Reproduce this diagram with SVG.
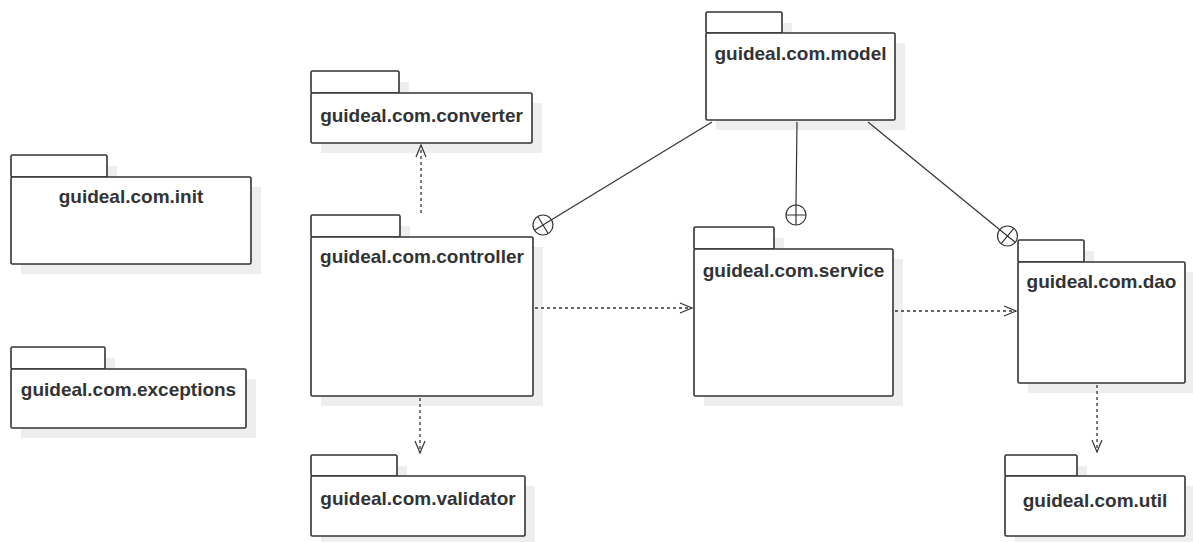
<svg xmlns="http://www.w3.org/2000/svg" width="1193" height="542" viewBox="0 0 1193 542">
<style>
.sh{fill:#eeeeee;stroke:none}
.pk{fill:#ffffff;stroke:#333333;stroke-width:1.6;stroke-linejoin:round}
.t{font-family:"Liberation Sans",Arial,sans-serif;font-size:19px;font-weight:bold;fill:#333333;text-anchor:middle}
.dep{fill:none;stroke:#333333;stroke-width:1.3;stroke-dasharray:3,3}
.sol{fill:none;stroke:#333333;stroke-width:1.2}
.ah{fill:none;stroke:#333333;stroke-width:1.2}
.cir{fill:#ffffff;stroke:#333333;stroke-width:1.2}
</style>
<rect width="1193" height="542" fill="#ffffff"/>

<g id="init">
<rect class="sh" x="21" y="166" width="96" height="22"/>
<rect class="sh" x="21" y="187" width="240" height="87"/>
<rect class="pk" x="11" y="155" width="96" height="22" rx="1.5"/>
<rect class="pk" x="11" y="177" width="240" height="87" rx="1.5"/>
<text class="t" x="131" y="203">guideal.com.init</text>
</g>

<g id="exceptions">
<rect class="sh" x="21" y="358" width="94" height="22"/>
<rect class="sh" x="21" y="379" width="235" height="59"/>
<rect class="pk" x="11" y="347" width="94" height="22" rx="1.5"/>
<rect class="pk" x="11" y="369" width="235" height="59" rx="1.5"/>
<text class="t" x="128.5" y="396">guideal.com.exceptions</text>
</g>

<g id="converter">
<rect class="sh" x="321" y="82" width="88" height="22"/>
<rect class="sh" x="321" y="103" width="221" height="50"/>
<rect class="pk" x="311" y="71" width="88" height="22" rx="1.5"/>
<rect class="pk" x="311" y="93" width="221" height="50" rx="1.5"/>
<text class="t" x="421.5" y="122">guideal.com.converter</text>
</g>

<g id="controller">
<rect class="sh" x="321" y="226" width="89" height="22"/>
<rect class="sh" x="321" y="247" width="222" height="159"/>
<rect class="pk" x="311" y="215" width="89" height="22" rx="1.5"/>
<rect class="pk" x="311" y="237" width="222" height="159" rx="1.5"/>
<text class="t" x="422" y="263">guideal.com.controller</text>
</g>

<g id="validator">
<rect class="sh" x="321" y="466" width="86" height="22"/>
<rect class="sh" x="321" y="486" width="214" height="60"/>
<rect class="pk" x="311" y="455" width="86" height="21" rx="1.5"/>
<rect class="pk" x="311" y="476" width="214" height="60" rx="1.5"/>
<text class="t" x="418" y="505">guideal.com.validator</text>
</g>

<g id="model">
<rect class="sh" x="716" y="23" width="76" height="21"/>
<rect class="sh" x="716" y="43" width="189" height="87"/>
<rect class="pk" x="706" y="12" width="76" height="21" rx="1.5"/>
<rect class="pk" x="706" y="33" width="189" height="87" rx="1.5"/>
<text class="t" x="800.5" y="60">guideal.com.model</text>
</g>

<g id="service">
<rect class="sh" x="704" y="238" width="80" height="22"/>
<rect class="sh" x="704" y="259" width="199" height="147"/>
<rect class="pk" x="694" y="227" width="80" height="22" rx="1.5"/>
<rect class="pk" x="694" y="249" width="199" height="147" rx="1.5"/>
<text class="t" x="793.5" y="277">guideal.com.service</text>
</g>

<g id="dao">
<rect class="sh" x="1028" y="251" width="66" height="22"/>
<rect class="sh" x="1028" y="272" width="167" height="121"/>
<rect class="pk" x="1018" y="240" width="66" height="22" rx="1.5"/>
<rect class="pk" x="1018" y="262" width="167" height="121" rx="1.5"/>
<text class="t" x="1101.5" y="288">guideal.com.dao</text>
</g>

<g id="util">
<rect class="sh" x="1015" y="466" width="72" height="21"/>
<rect class="sh" x="1015" y="486" width="180" height="60"/>
<rect class="pk" x="1005" y="455" width="72" height="21" rx="1.5"/>
<rect class="pk" x="1005" y="476" width="180" height="60" rx="1.5"/>
<text class="t" x="1095" y="507">guideal.com.util</text>
</g>

<g id="connectors">
<!-- controller -> converter -->
<path class="dep" d="M421,213 V145"/>
<path class="ah" d="M416,157 L421,145 L426,157"/>
<!-- controller -> validator -->
<path class="dep" d="M420,398 V453"/>
<path class="ah" d="M415,441 L420,453 L425,441"/>
<!-- controller -> service -->
<path class="dep" d="M535,308 H692"/>
<path class="ah" d="M680,303 L692,308 L680,313"/>
<!-- service -> dao -->
<path class="dep" d="M895,311 H1016"/>
<path class="ah" d="M1004,306 L1016,311 L1004,316"/>
<!-- dao -> util -->
<path class="dep" d="M1097,385 V452"/>
<path class="ah" d="M1092,440 L1097,452 L1102,440"/>
<!-- model containment -> controller -->
<path class="sol" d="M712,122 L551.5,219.8"/>
<circle class="cir" cx="543" cy="225" r="10"/>
<path class="sol" d="M551.5,219.8 L534.5,230.2 M537.8,216.5 L548.2,233.5"/>
<!-- model containment -> service -->
<path class="sol" d="M797,122 L796,205"/>
<circle class="cir" cx="796" cy="215" r="10"/>
<path class="sol" d="M796,205 V225 M786,215 H806"/>
<!-- model containment -> dao -->
<path class="sol" d="M868,122 L999.8,229.7"/>
<circle class="cir" cx="1007.5" cy="236" r="10"/>
<path class="sol" d="M999.8,229.7 L1015.2,242.3 M1013.8,228.3 L1001.2,243.7"/>
</g>
</svg>
